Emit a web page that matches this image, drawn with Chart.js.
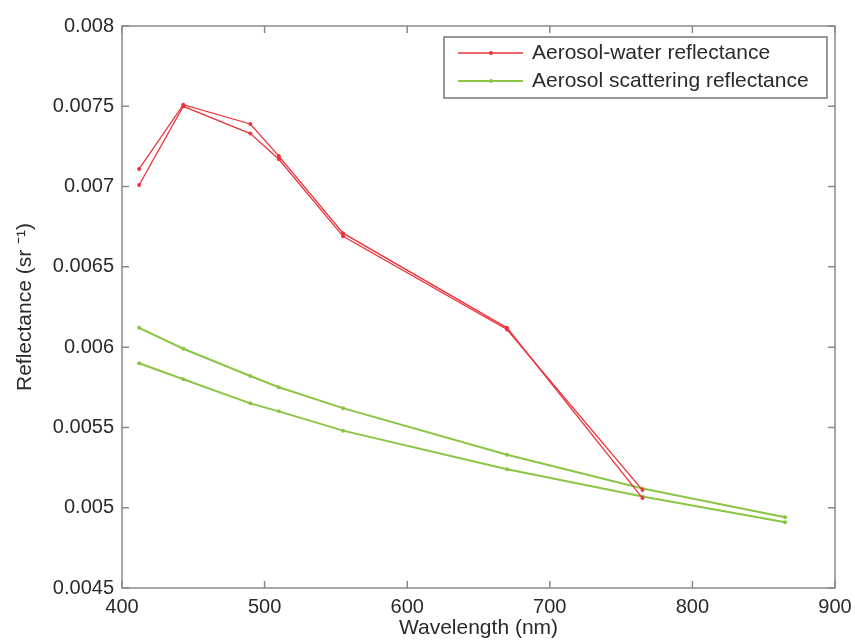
<!DOCTYPE html>
<html>
<head>
<meta charset="utf-8">
<script src="https://cdn.jsdelivr.net/npm/chart.js@4.4.0/dist/chart.umd.min.js"></script>
<style>
  html, body { margin: 0; padding: 0; background: #fff; }
  #wrap { width: 855px; height: 644px; }
</style>
</head>
<body>
<div id="wrap"><canvas id="canvas" width="855" height="644"></canvas></div>
<script>
// wavelengths (nm)
var wavelengths = [412, 443, 490, 510, 555, 670, 765, 865];

// aerosol-water reflectance, two runs (no 865 band)
var waterA = [0.00711, 0.00751, 0.00739, 0.00719, 0.00671, 0.00612, 0.00506];
var waterB = [0.00701, 0.00750, 0.00733, 0.00717, 0.00669, 0.00611, 0.00511];

// aerosol scattering reflectance, two runs
var scatA = [0.00612, 0.00599, 0.00582, 0.00575, 0.00562, 0.00533, 0.00512, 0.00494];
var scatB = [0.00590, 0.00580, 0.00565, 0.00560, 0.00548, 0.00524, 0.00507, 0.00491];

var xTicks = [400, 500, 600, 700, 800, 900];
var yTicks = [0.0045, 0.005, 0.0055, 0.006, 0.0065, 0.007, 0.0075, 0.008];

var legendNames = ["Aerosol-water reflectance", "Aerosol scattering reflectance"];

var RED = "rgb(236, 50, 58)";
var GREEN = "rgb(138, 198, 68)";
var TXT = "#2a2a2a";
var FONT = "'Liberation Sans', Arial, sans-serif";

function pts(vals) {
  var out = [];
  for (var i = 0; i < vals.length; i++) out.push({x: wavelengths[i], y: vals[i]});
  return out;
}

function series(vals, color, width) {
  return {
    data: pts(vals),
    borderColor: color,
    backgroundColor: color,
    borderWidth: width,
    pointRadius: 2,
    pointBorderWidth: 0,
    fill: false,
    tension: 0
  };
}

// matlab-ish box with inward ticks + legend in top right
var boxPlugin = {
  id: "box",
  afterDraw: function(chart) {
    var ctx = chart.ctx, a = chart.chartArea;
    var xs = chart.scales.x, ys = chart.scales.y;
    ctx.save();
    ctx.strokeStyle = "#8a8a8a";
    ctx.lineWidth = 1.5;
    ctx.strokeRect(a.left, a.top, a.right - a.left, a.bottom - a.top);
    ctx.beginPath();
    xTicks.forEach(function(t) {
      var px = xs.getPixelForValue(t);
      ctx.moveTo(px, a.bottom); ctx.lineTo(px, a.bottom - 7);
      ctx.moveTo(px, a.top); ctx.lineTo(px, a.top + 7);
    });
    yTicks.forEach(function(t) {
      var py = ys.getPixelForValue(t);
      ctx.moveTo(a.left, py); ctx.lineTo(a.left + 7, py);
      ctx.moveTo(a.right, py); ctx.lineTo(a.right - 7, py);
    });
    ctx.stroke();

    // legend
    var lx = 444, ly = 37, lw = 383, lh = 61;
    ctx.fillStyle = "#fff";
    ctx.fillRect(lx, ly, lw, lh);
    ctx.strokeStyle = "#777";
    ctx.lineWidth = 1.5;
    ctx.strokeRect(lx, ly, lw, lh);
    var colors = [RED, GREEN];
    var widths = [1.5, 2];
    for (var i = 0; i < 2; i++) {
      var y = ly + 16 + i * 28;
      ctx.strokeStyle = colors[i];
      ctx.lineWidth = widths[i];
      ctx.beginPath();
      ctx.moveTo(458, y); ctx.lineTo(523, y);
      ctx.stroke();
      ctx.fillStyle = colors[i];
      ctx.beginPath();
      ctx.arc(491, y, 2, 0, Math.PI * 2);
      ctx.fill();
      ctx.fillStyle = TXT;
      ctx.font = "21px " + FONT;
      ctx.textBaseline = "middle";
      ctx.textAlign = "left";
      ctx.fillText(legendNames[i], 532, y);
    }
    ctx.restore();
  }
};

var config = {
  type: "line",
  data: {
    datasets: [
      series(waterA, RED, 1.3),
      series(waterB, RED, 1.3),
      series(scatA, GREEN, 2),
      series(scatB, GREEN, 2)
    ]
  },
  options: {
    responsive: false,
    animation: false,
    layout: { padding: { top: 26, right: 20, left: 0, bottom: 0 } },
    plugins: { legend: { display: false }, tooltip: { enabled: false } },
    scales: {
      x: {
        type: "linear",
        min: 400, max: 900,
        afterBuildTicks: function(s) { s.ticks = xTicks.map(function(v) { return {value: v}; }); },
        grid: { display: false, drawTicks: false },
        border: { display: false },
        ticks: { color: TXT, font: { size: 20, family: FONT }, padding: 7, maxRotation: 0 },
        title: { display: true, text: "Wavelength (nm)", color: TXT, font: { size: 21, family: FONT }, padding: { top: 0, bottom: 3 } },
        afterFit: function(s) { s.height = 56; s.paddingLeft = 0; s.paddingRight = 0; }
      },
      y: {
        min: 0.0045, max: 0.008,
        afterBuildTicks: function(s) { s.ticks = yTicks.map(function(v) { return {value: v}; }); },
        grid: { display: false, drawTicks: false },
        border: { display: false },
        ticks: {
          color: TXT, font: { size: 20, family: FONT }, padding: 8,
          callback: function(v) { return String(parseFloat(v.toFixed(4))); }
        },
        title: { display: true, text: "Reflectance (sr \u207B\u00B9)", color: TXT, font: { size: 21, family: FONT }, padding: { top: 13, bottom: 0 } },
        afterFit: function(s) { s.width = 122; }
      }
    }
  },
  plugins: [boxPlugin]
};

new Chart(document.getElementById("canvas"), config);
</script>
</body>
</html>
